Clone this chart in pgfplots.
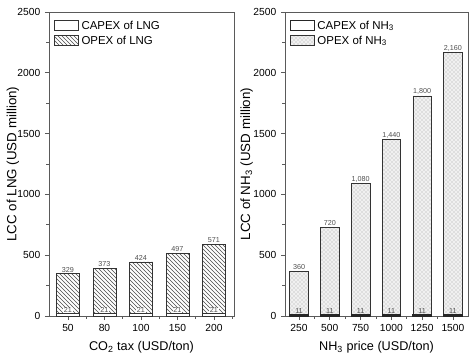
\documentclass[border=0pt]{standalone}
\usepackage{fontspec}
\setmainfont{Liberation Sans}
\usepackage{pgfplots}
\usepackage{pgfplotstable}
\pgfplotsset{compat=1.18}
\usetikzlibrary{patterns}
\definecolor{axisgray}{RGB}{90,90,90}
\definecolor{lblgray}{RGB}{80,80,80}
\pgfplotstableread{
x capex opex
0 21 329
1 21 373
2 21 424
3 21 497
4 21 571
}\lngdata
\pgfplotstableread{
x capex opex
0 11 360
1 11 720
2 11 1080
3 11 1440
4 11 1800
5 11 2160
}\nhdata
\pgfplotsset{
  /pgf/number format/assume math mode=true,
  mybase/.style={
    scale only axis,
    height=228pt,
    ymin=0, ymax=2500,
    ytick={0,500,1000,1500,2000,2500},
    minor y tick num=1,
    tick align=outside,
    xtick pos=bottom, ytick pos=left,
    xtick={0,...,5},
    minor x tick num=1,
    major tick length=3pt, minor tick length=2pt,
    axis line style={axisgray, line width=0.6pt},
    every tick/.style={axisgray, line width=0.5pt},
    tick label style={font=\fontsize{7.7}{8}\selectfont},
    label style={font=\fontsize{9.5}{11}\selectfont},
    every axis y label/.style={at={(axis description cs:0,0.5)}, rotate=90, anchor=center},
    ybar, bar shift=0pt,
    point meta=explicit,
    nodes near coords,
    every node near coord/.append style={font=\fontsize{5.4}{6}\selectfont, text=lblgray, inner sep=0.6pt, anchor=south},
    legend style={draw=none, fill=none, at={(0.02,0.985)}, anchor=north west, font=\fontsize{8.6}{9}\selectfont, row sep=-0.5pt, inner sep=1pt},
    legend cell align=left,
    reverse legend,
    legend image code/.code={\draw[#1, line width=0.4pt] (0pt,-3pt) rectangle (18pt,4pt);},
    scaled y ticks=false,
    y tick label style={/pgf/number format/.cd, fixed, 1000 sep={}},
  },
}
\begin{document}
\begin{tikzpicture}
\begin{axis}[mybase,
  at={(0,0)}, anchor=south west,
  width=138.75pt,
  bar width=17pt,
  xmin=-0.52, xmax=4.55,
  xticklabels={50,80,100,150,200},
  xlabel={CO\textsubscript{2} tax (USD/ton)},
  ylabel={LCC of LNG (USD million)},
  ylabel style={at={(axis description cs:-0.195,0.5)}},
]
\addplot+[draw=black!80, line width=0.4pt, fill=white, pattern=north west lines, pattern color=black!70]
  table[x=x, y expr=\thisrow{capex}+\thisrow{opex}, meta=opex]{\lngdata};
\addlegendentry{OPEX of LNG}
\addplot+[draw=black!80, line width=0.4pt, fill=white,
  every node near coord/.append style={fill=white, inner ysep=0.2pt}]
  table[x=x, y=capex, meta=capex]{\lngdata};
\addlegendentry{CAPEX of LNG}
\end{axis}
\begin{axis}[mybase,
  at={(177pt,0)}, anchor=south west,
  width=137.25pt,
  bar width=13.9pt,
  xmin=-0.455, xmax=5.49,
  xticklabels={250,500,750,1000,1250,1500},
  xlabel={NH\textsubscript{3} price (USD/ton)},
  ylabel={LCC of NH\textsubscript{3} (USD million)},
  ylabel style={at={(axis description cs:-0.21,0.5)}},
  every node near coord/.append style={/pgf/number format/.cd, 1000 sep={,}},
]
\addplot+[draw=black!80, line width=0.4pt, fill=gray!12, postaction={pattern=crosshatch dots, pattern color=gray!70}]
  table[x=x, y expr=\thisrow{capex}+\thisrow{opex}, meta=opex]{\nhdata};
\addlegendentry{OPEX of NH\textsubscript{3}}
\addplot+[draw=black!85, line width=0.8pt, fill=white]
  table[x=x, y=capex, meta=capex]{\nhdata};
\addlegendentry{CAPEX of NH\textsubscript{3}}
\end{axis}
\pgfresetboundingbox
\path[use as bounding box] (-36.75pt,-31.5pt) rectangle (318.75pt,237pt);
\end{tikzpicture}
\end{document}
